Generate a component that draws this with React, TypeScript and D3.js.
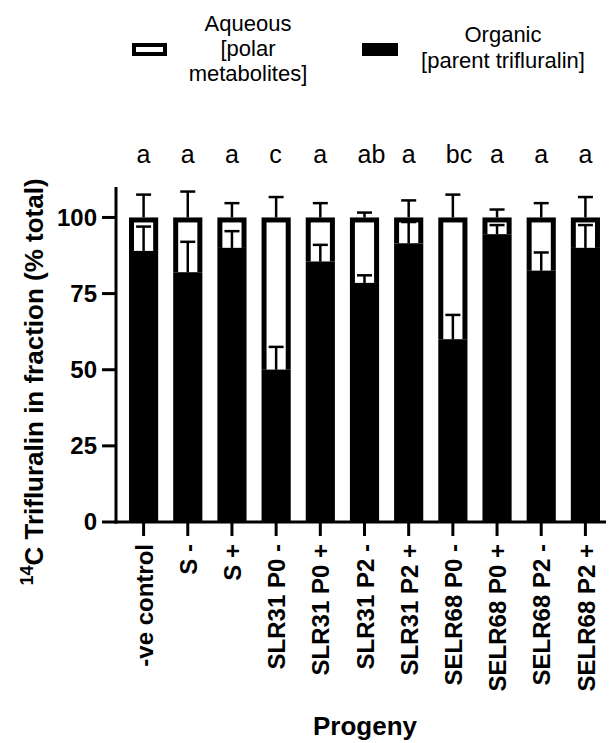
import React from 'react';
import * as d3 from 'd3';

// values
const categories = ['-ve control', 'S -', 'S +', 'SLR31 P0 -', 'SLR31 P0 +', 'SLR31 P2 -', 'SLR31 P2 +', 'SELR68 P0 -', 'SELR68 P0 +', 'SELR68 P2 -', 'SELR68 P2 +'];
const organic = [89, 82, 90, 50, 85.5, 78.5, 91.5, 60, 94.5, 82.5, 90];
const organicSD = [8, 10, 5.5, 7.5, 5.5, 2.5, 7, 8, 3, 6, 7.5];
const aqueousSD = [7.5, 8.5, 4.7, 6.7, 4.7, 1.6, 5.6, 7.5, 2.6, 4.7, 6.7];
const letters = ['a', 'a', 'a', 'c', 'a', 'ab', 'a', 'bc', 'a', 'a', 'a'];
const yTicks = [0, 25, 50, 75, 100];

const FONT = "'Liberation Sans', Arial, sans-serif";

export default function App() {
  const width = 614;
  const height = 743;

  const x = d3.scaleBand<string>()
    .domain(categories)
    .range([121.5, 607.5])
    .paddingInner(0.34)
    .paddingOuter(0.17);
  const y = d3.scaleLinear().domain([0, 110]).range([522, 187]);

  const bw = x.bandwidth();
  const border = 5;
  const cap = 15;

  return (
    <svg width={width} height={height} style={{ position: 'absolute', left: 0, top: 0, background: '#fff' }} fontFamily={FONT}>
      {/* legend */}
      <rect x={134} y={45} width={31} height={9} fill="#fff" stroke="#000" strokeWidth={4} />
      <text x={248} textAnchor="middle" fontSize={22}>
        <tspan x={248} y={31}>Aqueous</tspan>
        <tspan x={248} y={56}>[polar</tspan>
        <tspan x={248} y={81}>metabolites]</tspan>
      </text>
      <rect x={362} y={43} width={36} height={13} fill="#000" />
      <text x={503} textAnchor="middle" fontSize={22}>
        <tspan x={503} y={42}>Organic</tspan>
        <tspan x={503} y={68}>[parent trifluralin]</tspan>
      </text>

      {/* significance letters */}
      {categories.map((c, i) => (
        <text key={'l' + c} x={x(c)! + bw / 2 - 7} y={163} fontSize={25} textAnchor="start">{letters[i]}</text>
      ))}

      {/* bars */}
      {categories.map((c, i) => {
        const x0 = x(c)!;
        const cx = x0 + bw / 2;
        const yo = y(organic[i]);
        const yTop = y(100);
        const yAqErr = y(100 + aqueousSD[i]);
        const yOrgErr = y(organic[i] + organicSD[i]);
        return (
          <g key={c}>
            {/* aqueous error bar (up) */}
            <line x1={cx} x2={cx} y1={yTop} y2={yAqErr} stroke="#000" strokeWidth={2.5} />
            <line x1={cx - cap / 2} x2={cx + cap / 2} y1={yAqErr} y2={yAqErr} stroke="#000" strokeWidth={2.5} />
            {/* aqueous segment */}
            <rect x={x0} y={yTop} width={bw} height={yo - yTop} fill="#000" />
            <rect x={x0 + border} y={yTop + border} width={bw - 2 * border} height={Math.max(0, yo - yTop - border)} fill="#fff" />
            {/* organic segment */}
            <rect x={x0} y={yo} width={bw} height={y(0) - yo} fill="#000" />
            {/* organic error bar (up) */}
            <line x1={cx} x2={cx} y1={yo} y2={yOrgErr} stroke="#000" strokeWidth={2.5} />
            <line x1={cx - cap / 2} x2={cx + cap / 2} y1={yOrgErr} y2={yOrgErr} stroke="#000" strokeWidth={2.5} />
          </g>
        );
      })}

      {/* y axis */}
      <line x1={116} x2={116} y1={y(110)} y2={y(0) + 1.5} stroke="#000" strokeWidth={3} />
      {yTicks.map(t => (
        <g key={'y' + t}>
          <line x1={102} x2={116} y1={y(t)} y2={y(t)} stroke="#000" strokeWidth={3} />
          <text x={97} y={y(t)} dy="0.35em" textAnchor="end" fontSize={24} fontWeight="bold">{t}</text>
        </g>
      ))}

      {/* x axis */}
      <line x1={114.5} x2={606} y1={y(0)} y2={y(0)} stroke="#000" strokeWidth={3} />
      {categories.map(c => {
        const cx = x(c)! + bw / 2;
        return (
          <g key={'x' + c}>
            <line x1={cx} x2={cx} y1={y(0)} y2={y(0) + 14} stroke="#000" strokeWidth={3} />
            <text transform={`translate(${cx},${y(0) + 22}) rotate(-90)`} dy="0.38em" textAnchor="end" fontSize={24} fontWeight="bold">{c}</text>
          </g>
        );
      })}

      {/* axis titles */}
      <text transform="translate(43,382) rotate(-90)" textAnchor="middle" fontSize={26} fontWeight="bold">
        <tspan fontSize={18} dy={-10}>14</tspan>
        <tspan dy={10}>C Trifluralin in fraction (% total)</tspan>
      </text>
      <text x={365} y={735} textAnchor="middle" fontSize={26} fontWeight="bold">Progeny</text>
    </svg>
  );
}
